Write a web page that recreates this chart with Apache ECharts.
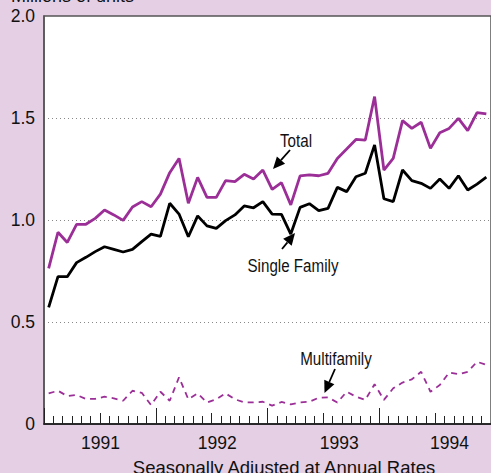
<!DOCTYPE html>
<html>
<head>
<meta charset="utf-8">
<script src="https://cdn.jsdelivr.net/npm/echarts@6.0.0/dist/echarts.min.js"></script>
<style>
  html, body { margin: 0; padding: 0; background: #e5cfe4; }
  #chart { width: 491px; height: 473px; }
</style>
</head>
<body>
<div id="chart"></div>
<script>
// monthly, Jan 1991 onward (millions of units, SAAR)
var total  = [0.763, 0.940, 0.890, 0.979, 0.979, 1.008, 1.049, 1.025, 0.998, 1.064, 1.090, 1.065,
              1.127, 1.232, 1.302, 1.082, 1.209, 1.111, 1.111, 1.193, 1.188, 1.224, 1.201, 1.245,
              1.150, 1.183, 1.074, 1.216, 1.221, 1.217, 1.229, 1.302, 1.348, 1.395, 1.392, 1.605,
              1.245, 1.302, 1.487, 1.449, 1.479, 1.351, 1.428, 1.449, 1.498, 1.438, 1.526, 1.520];
var single = [0.572, 0.722, 0.722, 0.791, 0.817, 0.845, 0.869, 0.856, 0.843, 0.856, 0.894, 0.931,
              0.920, 1.082, 1.029, 0.918, 1.020, 0.971, 0.959, 0.997, 1.025, 1.069, 1.060, 1.090,
              1.029, 1.028, 0.931, 1.062, 1.080, 1.046, 1.057, 1.160, 1.139, 1.212, 1.229, 1.368,
              1.104, 1.090, 1.245, 1.193, 1.180, 1.155, 1.201, 1.155, 1.217, 1.147, 1.176, 1.210];
var multi  = [0.150, 0.163, 0.137, 0.142, 0.123, 0.123, 0.134, 0.126, 0.114, 0.163, 0.153, 0.093,
              0.158, 0.114, 0.229, 0.121, 0.150, 0.105, 0.121, 0.150, 0.121, 0.106, 0.106, 0.109,
              0.090, 0.108, 0.096, 0.106, 0.109, 0.129, 0.131, 0.105, 0.158, 0.134, 0.118, 0.195,
              0.118, 0.175, 0.203, 0.219, 0.256, 0.158, 0.191, 0.252, 0.244, 0.256, 0.305, 0.290];
var years = ['1991', '1992', '1993', '1994'];
var yearLabelAt = [6.07, 18.6, 31.7, 43.55]; // where the year labels sit, in months
var yTicks = [0, 0.5, 1.0, 1.5, 2.0];

const purple = '#9b2f97';
const font = "'Liberation Sans', Arial, sans-serif";

function toPoints(arr) {
  return arr.map(function (v, i) { return [i + 0.5, v]; });
}

// simple arrow: shaft + filled head, tip at (x2, y2)
function arrow(x1, y1, x2, y2) {
  var a = Math.atan2(y2 - y1, x2 - x1);
  var L = 12, W = 5.5;
  var bx = x2 - L * Math.cos(a), by = y2 - L * Math.sin(a);
  return [
    { type: 'line', shape: { x1: x1, y1: y1, x2: bx, y2: by },
      style: { stroke: '#000', lineWidth: 1.8 } },
    { type: 'polygon', shape: { points: [
        [x2, y2],
        [bx + W * Math.sin(a), by - W * Math.cos(a)],
        [bx - W * Math.sin(a), by + W * Math.cos(a)]
      ] }, style: { fill: '#000' } }
  ];
}

// condensed-looking annotation text (squeezed horizontally)
function note(text, x, y) {
  return { type: 'text', x: x, y: y, scaleX: 0.82,
    style: { text: text, font: '18.5px ' + font, fill: '#111', align: 'center', verticalAlign: 'middle' } };
}

var myChart = echarts.init(document.getElementById('chart'), null, { renderer: 'svg' });

var monthTicks = [];
for (var m = 1; m < 48; m++) monthTicks.push(m);

var option = {
  animation: false,
  backgroundColor: '#e5cfe4',
  title: {
    text: 'Millions of units',
    left: 11, top: -13, padding: 0,
    textStyle: { fontFamily: font, fontSize: 18, fontWeight: 'normal', color: '#111' }
  },
  grid: {
    left: 44, top: 16, width: 458, height: 408,
    show: true, backgroundColor: '#fff', borderColor: '#555', borderWidth: 1.5
  },
  xAxis: [
    {
      type: 'value', min: 0, max: 48, position: 'bottom',
      axisLine: { show: true, lineStyle: { color: '#111', width: 1.5 } },
      axisTick: { show: true, inside: true, length: 8, customValues: monthTicks,
                  lineStyle: { color: '#222', width: 1 } },
      axisLabel: {
        customValues: yearLabelAt,
        formatter: function (v) { return years[yearLabelAt.indexOf(v)]; },
        margin: 10, color: '#111', fontSize: 17.5, fontFamily: font
      },
      splitLine: { show: false }
    },
    {
      type: 'value', min: 0, max: 48, interval: 6, position: 'bottom',
      axisLine: { show: false },
      axisTick: { show: true, inside: true, length: 11, lineStyle: { color: '#222', width: 1 } },
      axisLabel: { show: false }, splitLine: { show: false }
    },
    {
      type: 'value', min: 0, max: 48, interval: 12, position: 'bottom',
      axisLine: { show: false },
      axisTick: { show: true, inside: true, length: 16, lineStyle: { color: '#222', width: 1 } },
      axisLabel: { show: false }, splitLine: { show: false }
    }
  ],
  yAxis: {
    type: 'value', min: yTicks[0], max: yTicks[yTicks.length - 1], interval: 0.5,
    axisLine: { show: true, lineStyle: { color: '#555', width: 1.5 } },
    axisTick: { show: false },
    axisLabel: {
      margin: 9, color: '#111', fontSize: 17.5, fontFamily: font,
      formatter: function (v) { return v === 0 ? '0' : v.toFixed(1); }
    },
    splitLine: { show: true, showMinLine: false, showMaxLine: false,
                 lineStyle: { color: '#888', width: 1, type: [1, 3] } }
  },
  series: [
    { name: 'Multifamily', type: 'line', data: toPoints(multi), symbol: 'none',
      lineStyle: { color: purple, width: 1.8, type: [6, 5] } },
    { name: 'Single Family', type: 'line', data: toPoints(single), symbol: 'none',
      lineStyle: { color: '#000', width: 2.8 } },
    { name: 'Total', type: 'line', data: toPoints(total), symbol: 'none',
      lineStyle: { color: purple, width: 2.8 } }
  ],
  graphic: [
    note('Total', 296, 141),
    note('Single Family', 293, 266),
    note('Multifamily', 336, 359),
    { type: 'text', x: 284, y: 467,
      style: { text: 'Seasonally Adjusted at Annual Rates', font: '18.5px ' + font, fill: '#111',
               align: 'center', verticalAlign: 'middle' } }
  ].concat(arrow(290, 150, 273, 169))
   .concat(arrow(282, 249, 295, 233))
   .concat(arrow(335, 369, 324.5, 393))
};

myChart.setOption(option);
</script>
</body>
</html>
